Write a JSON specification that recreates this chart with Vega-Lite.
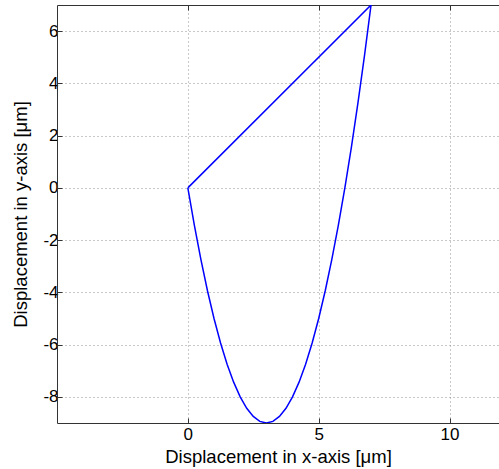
{
  "$schema": "https://vega.github.io/schema/vega-lite/v6.json",
  "autosize": {"type": "none"},
  "padding": {"left": 57, "top": 5, "right": 0, "bottom": 46},
  "width": 442,
  "height": 418,
  "background": "white",
  "config": {
    "view": {"stroke": null},
    "font": "Liberation Sans",
    "axis": {
      "labelFont": "Liberation Sans",
      "titleFont": "Liberation Sans",
      "labelFontSize": 17,
      "titleFontSize": 18.5,
      "labelColor": "#000",
      "titleColor": "#000",
      "titleFontWeight": "normal",
      "domainColor": "#333",
      "tickColor": "#333",
      "tickSize": -5,
      "gridColor": "#888",
      "gridDash": [1, 3],
      "gridWidth": 1,
      "gridOpacity": 0.9,
      "labelExpr": "'' + datum.value"
    }
  },
  "data": {
    "values": [
      {"i": 0, "x": 0, "y": 0},
      {"i": 1, "x": 0.25, "y": -1.4375},
      {"i": 2, "x": 0.5, "y": -2.75},
      {"i": 3, "x": 0.75, "y": -3.9375},
      {"i": 4, "x": 1, "y": -5},
      {"i": 5, "x": 1.25, "y": -5.9375},
      {"i": 6, "x": 1.5, "y": -6.75},
      {"i": 7, "x": 1.75, "y": -7.4375},
      {"i": 8, "x": 2, "y": -8},
      {"i": 9, "x": 2.25, "y": -8.4375},
      {"i": 10, "x": 2.5, "y": -8.75},
      {"i": 11, "x": 2.75, "y": -8.9375},
      {"i": 12, "x": 3, "y": -9},
      {"i": 13, "x": 3.25, "y": -8.9375},
      {"i": 14, "x": 3.5, "y": -8.75},
      {"i": 15, "x": 3.75, "y": -8.4375},
      {"i": 16, "x": 4, "y": -8},
      {"i": 17, "x": 4.25, "y": -7.4375},
      {"i": 18, "x": 4.5, "y": -6.75},
      {"i": 19, "x": 4.75, "y": -5.9375},
      {"i": 20, "x": 5, "y": -5},
      {"i": 21, "x": 5.25, "y": -3.9375},
      {"i": 22, "x": 5.5, "y": -2.75},
      {"i": 23, "x": 5.75, "y": -1.4375},
      {"i": 24, "x": 6, "y": 0},
      {"i": 25, "x": 6.25, "y": 1.5625},
      {"i": 26, "x": 6.5, "y": 3.25},
      {"i": 27, "x": 6.75, "y": 5.0625},
      {"i": 28, "x": 7, "y": 7},
      {"i": 29, "x": 0, "y": 0}
    ]
  },
  "layer": [
    {
      "mark": {"type": "line", "color": "#0000ff", "strokeWidth": 1.5, "clip": true, "interpolate": "linear"},
      "encoding": {
        "x": {
          "field": "x", "type": "quantitative",
          "scale": {"domain": [-5, 11.89], "nice": false, "zero": false},
          "axis": {
            "title": "Displacement in x-axis [μm]",
            "values": [0, 5, 10],
            "grid": true,
            "labelPadding": 8,
            "titlePadding": 5
          }
        },
        "y": {
          "field": "y", "type": "quantitative",
          "scale": {"domain": [-9, 7], "nice": false, "zero": false},
          "axis": {
            "title": "Displacement in y-axis [μm]",
            "values": [-8, -6, -4, -2, 0, 2, 4, 6],
            "grid": true,
            "labelPadding": 4,
            "titlePadding": 12
          }
        },
        "order": {"field": "i", "type": "quantitative"}
      }
    },
    {
      "mark": {"type": "line", "opacity": 0, "clip": true},
      "encoding": {
        "x": {
          "field": "x", "type": "quantitative",
          "axis": {
            "orient": "top",
            "title": null,
            "labels": false,
            "grid": false,
            "values": [0, 5, 10]
          }
        },
        "y": {"field": "y", "type": "quantitative"},
        "order": {"field": "i", "type": "quantitative"}
      }
    }
  ],
  "resolve": {"axis": {"x": "independent"}}
}
